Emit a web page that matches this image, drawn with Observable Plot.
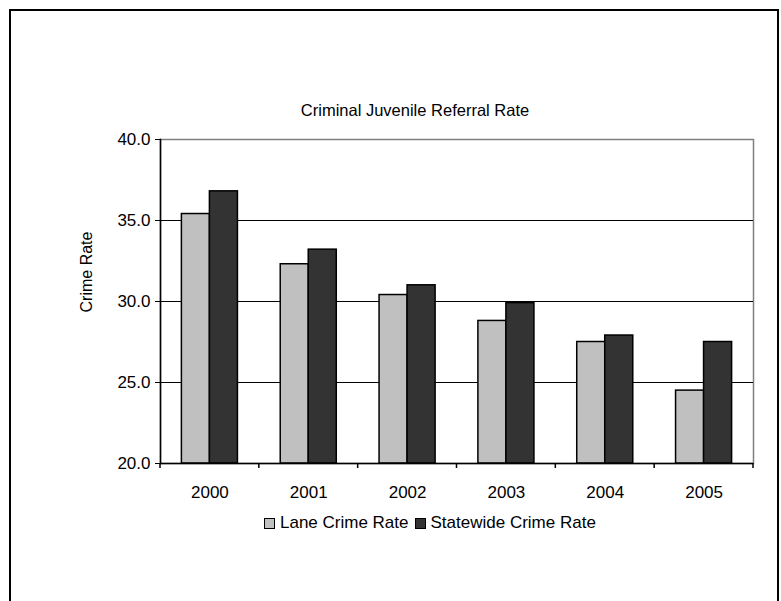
<!DOCTYPE html>
<html>
<head>
<meta charset="utf-8">
<script src="https://cdn.jsdelivr.net/npm/d3@7"></script>
<script src="https://cdn.jsdelivr.net/npm/@observablehq/plot@0.6"></script>
<style>
  html, body { margin: 0; padding: 0; background: #fff; overflow: hidden; }
  #wrap { position: relative; width: 781px; height: 601px; font-family: "Liberation Sans", Arial, sans-serif; color: #000; }
  #border { position: absolute; left: 9px; top: 9px; width: 766px; height: 640px; border: 2px solid #000; border-bottom: none; }
  #chart { position: absolute; left: 0; top: 0; }
  #title { position: absolute; top: 101px; left: 215px; width: 400px; text-align: center; font-size: 16.5px; }
  #ylabel { position: absolute; left: 87px; top: 272px; transform: translate(-50%, -50%) rotate(-90deg); font-size: 16px; white-space: nowrap; }
  #legend { position: absolute; top: 513px; left: 264px; display: flex; align-items: center; font-size: 17px; white-space: nowrap; }
  .sw { display: inline-block; width: 9px; height: 9px; border: 1px solid #000; margin-right: 5px; }
  .item { display: flex; align-items: center; margin-right: 6px; }
</style>
</head>
<body>
<div id="wrap">
  <div id="border"></div>
  <div id="chart"></div>
  <div id="title">Criminal Juvenile Referral Rate</div>
  <div id="ylabel">Crime Rate</div>
  <div id="legend"></div>
</div>
<script>
const years = ["2000", "2001", "2002", "2003", "2004", "2005"];
const laneRate = [35.4, 32.3, 30.4, 28.8, 27.5, 24.5];
const statewideRate = [36.8, 33.2, 31.0, 29.9, 27.9, 27.5];
const seriesNames = ["Lane Crime Rate", "Statewide Crime Rate"];
const seriesColors = ["#c0c0c0", "#333333"];
const yTicks = [20, 25, 30, 35, 40];

const laneData = years.map((y, i) => ({year: y, value: laneRate[i]}));
const stateData = years.map((y, i) => ({year: y, value: statewideRate[i]}));
const yMin = yTicks[0];

const chart = Plot.plot({
  width: 781,
  height: 601,
  marginLeft: 160,
  marginRight: 28,
  marginTop: 139,
  marginBottom: 138,
  style: {fontFamily: "'Liberation Sans', Arial, sans-serif", fontSize: "17px", color: "#000", background: "transparent"},
  x: {domain: years, paddingInner: 0.433, paddingOuter: 0.2165, round: false, label: null},
  y: {domain: [yTicks[0], yTicks[yTicks.length - 1]], label: null},
  marks: [
    Plot.frame({stroke: "#808080", strokeWidth: 1.5}),
    Plot.ruleY(yTicks.slice(1, -1), {stroke: "#000", strokeWidth: 1}),
    Plot.barY(laneData, {x: "year", y1: yMin, y2: "value", fill: seriesColors[0], stroke: "#000", strokeWidth: 1.5, insetRight: 28}),
    Plot.barY(stateData, {x: "year", y1: yMin, y2: "value", fill: seriesColors[1], stroke: "#000", strokeWidth: 1.5, insetLeft: 28}),
    Plot.ruleY([yMin], {stroke: "#000", strokeWidth: 1.5}),
    Plot.frame({anchor: "left", stroke: "#000", strokeWidth: 1.5}),
    Plot.axisY({ticks: yTicks, tickFormat: d3.format(".1f"), tickSize: 5, tickPadding: 5, label: null}),
    Plot.axisX({tickSize: 0, tickPadding: 22, label: null})
  ]
});
document.getElementById("chart").appendChild(chart);

// Category boundary tick marks (Excel-style), derived from Plot's x scale
const sx = chart.scale("x");
const sy = chart.scale("y");
const base = sy.apply(yMin);
const half = (sx.step - sx.bandwidth) / 2;
const bounds = years.map(y => sx.apply(y) - half);
bounds.push(sx.apply(years[years.length - 1]) + sx.bandwidth + half);
const g = d3.select(chart).append("g").attr("stroke", "#000").attr("stroke-width", 1.5);
bounds.forEach(bx => {
  g.append("line").attr("x1", bx).attr("x2", bx).attr("y1", base).attr("y2", base + 5);
});

// Legend
const legend = d3.select("#legend");
seriesNames.forEach((name, i) => {
  const it = legend.append("div").attr("class", "item");
  it.append("span").attr("class", "sw").style("background", seriesColors[i]);
  it.append("span").text(name);
});
</script>
</body>
</html>
